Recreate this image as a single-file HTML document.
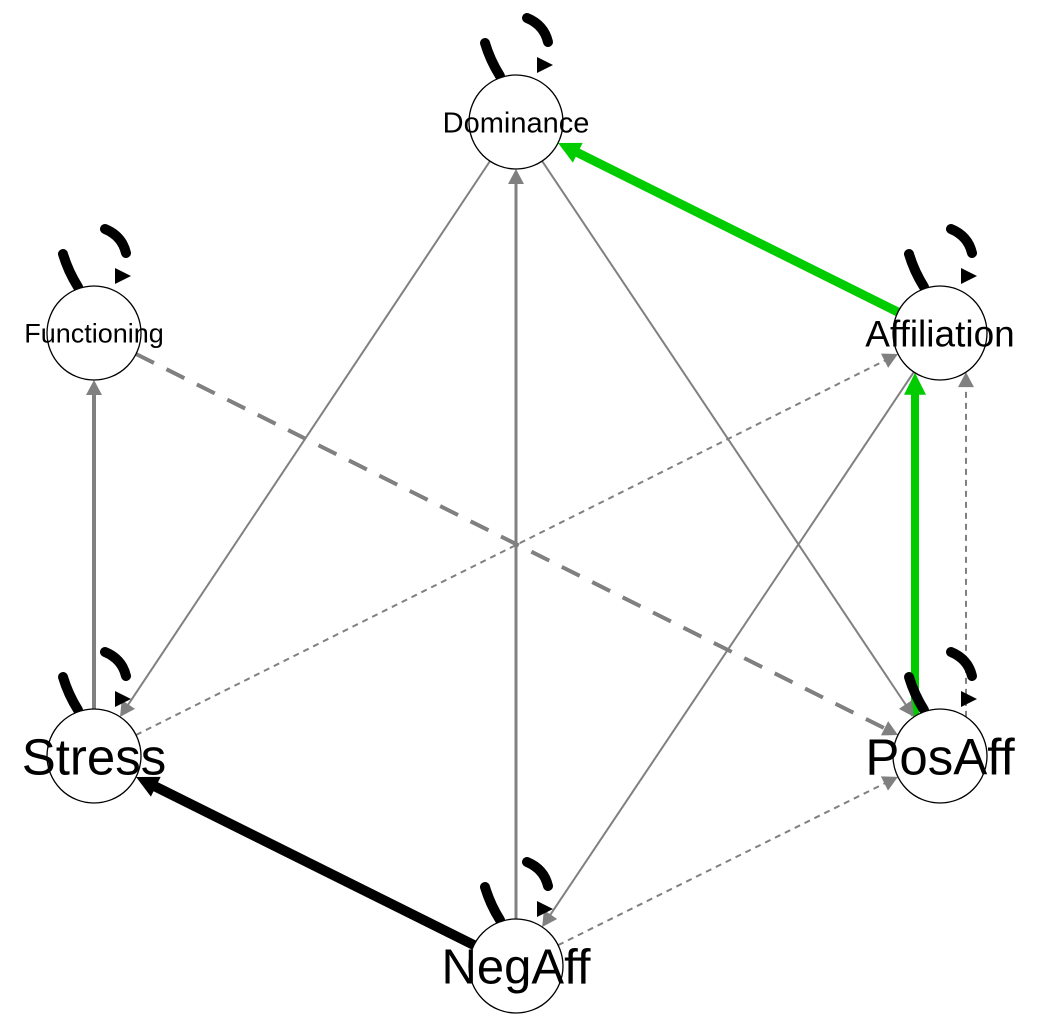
<!DOCTYPE html>
<html><head><meta charset="utf-8"><style>
html,body{margin:0;padding:0;background:#fff;}
svg{display:block;}
text{font-family:"Liberation Sans",Arial,sans-serif;}
</style></head><body>
<svg id="g" width="1037" height="1036" viewBox="0 0 1037 1036">
<g id="edges"></g>
<g id="loops"></g>
<g id="nodes"></g>
</svg>
<script>
const nodeNames = ["Dominance","Functioning","Affiliation","Stress","PosAff","NegAff"];
const nodeX = [516, 94, 940, 94, 940, 516];
const nodeY = [122, 333, 333, 756, 756, 966];
const labelSize = [29, 27, 37, 51, 51, 49];
const edgeFrom = [2, 4, 5, 3, 5, 0, 0, 2, 1, 3, 5, 4];
const edgeTo   = [0, 2, 3, 1, 0, 3, 4, 5, 4, 2, 4, 2];
const edgeWidth = [9, 8, 10, 4, 3, 2, 2, 2, 4, 2, 2, 2];
const edgeColor = ["#00cc00","#00cc00","#000","#808080","#808080","#808080","#808080","#808080","#808080","#808080","#808080","#808080"];
const edgeDash = ["","","","","","","","","20 14","6 5","6 5","6 5"];
const edgeOffset = [0,-25,0,0,0,0,0,0,0,0,0,26];
const R = 47;
const NS = "http://www.w3.org/2000/svg";
function mk(tag, attrs, parent){const e=document.createElementNS(NS,tag);for(const k in attrs)e.setAttribute(k,attrs[k]);parent.appendChild(e);return e;}
const eg=document.getElementById('edges');
for(let i=0;i<edgeFrom.length;i++){
  const a=edgeFrom[i], b=edgeTo[i];
  let x1=nodeX[a],y1=nodeY[a],x2=nodeX[b],y2=nodeY[b];
  const dx=x2-x1, dy=y2-y1, L=Math.hypot(dx,dy), ux=dx/L, uy=dy/L;
  const px=-uy, py=ux, o=edgeOffset[i];
  const ox = o*Math.sign(px||1)*Math.abs(px), oy=o*Math.sign(px||1)*py;
  let sx=x1+ux*Math.sqrt(R*R-o*o)+ox, sy=y1+uy*Math.sqrt(R*R-o*o)+oy;
  let tx=x2-ux*Math.sqrt(R*R-o*o)+ox, ty=y2-uy*Math.sqrt(R*R-o*o)+oy;
  const ah = edgeWidth[i]>=8 ? 22 : 15, aw = edgeWidth[i]>=8 ? 11 : 8;
  const bx=tx-ux*ah, by=ty-uy*ah;
  const line=mk('line',{x1:sx,y1:sy,x2:bx+ux*2,y2:by+uy*2,stroke:edgeColor[i],'stroke-width':edgeWidth[i],'stroke-dasharray':edgeDash[i]},eg);
  
  
  const ar=mk('polygon',{points:`${tx},${ty} ${bx+px*aw},${by+py*aw} ${bx-px*aw},${by-py*aw}`,fill:edgeColor[i]},eg);
  
  
}
const lg=document.getElementById('loops'), ng=document.getElementById('nodes');
for(let i=0;i<nodeNames.length;i++){
  const cx=nodeX[i], cy=nodeY[i];
  const g=mk('g',{transform:`translate(${cx},${cy})`},lg);
  
  
  mk('path',{d:'M -16 -46 Q -26 -62 -31 -79',stroke:'#000','stroke-width':10,fill:'none','stroke-linecap':'round'},g);
  mk('path',{d:'M 11 -104 Q 28 -97 32 -80',stroke:'#000','stroke-width':10,fill:'none','stroke-linecap':'round'},g);
  mk('polygon',{points:'21,-65 37,-57 21,-49',fill:'#000'},g);
  const c=mk('circle',{cx:cx,cy:cy,r:R,fill:'#fff',stroke:'#000','stroke-width':1.3},ng);
  
  
}
for(let i=0;i<nodeNames.length;i++){
  const t=mk('text',{x:nodeX[i],y:nodeY[i]+labelSize[i]*0.36,'font-size':labelSize[i],'text-anchor':'middle',fill:'#000'},ng);
  t.textContent=nodeNames[i];
  
  
}
</script>
</body></html>
